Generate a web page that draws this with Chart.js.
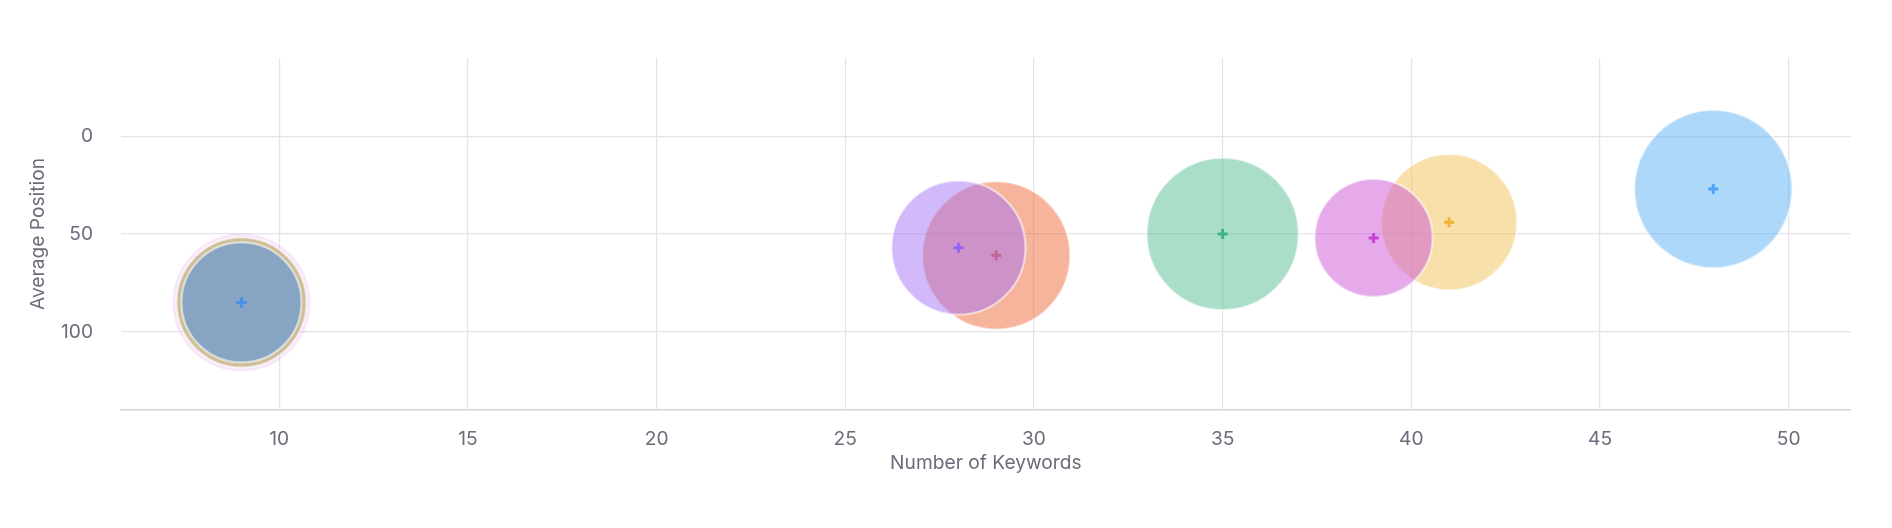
<!DOCTYPE html>
<html>
<head>
<meta charset="utf-8">
<script src="https://cdn.jsdelivr.net/npm/chart.js@4.4.0/dist/chart.umd.min.js"></script>
<style>
	html, body { margin: 0; padding: 0; background: #fff; }
	#wrap { width: 1892px; height: 528px; }
</style>
</head>
<body>
<div id="wrap"><canvas id="keyword-chart"></canvas></div>
<script>
const domains = ["Site A", "Site B", "Site C", "Site D", "Site E", "Site F", "Site G", "Site H", "Site I"];
const keywords = [9, 9, 9, 29, 28, 35, 41, 39, 48];
const positions = [85, 85, 85, 61, 57, 50, 44, 52, 27];
const bubbleSize = [69, 65, 60, 74, 67, 76, 68, 59, 79];
const xTicks = [10, 15, 20, 25, 30, 35, 40, 45, 50];
const yTicks = [0, 50, 100];

// fill / centre-mark colours, same order as domains
const fills = [
	"rgba(205, 85, 215, 0.15)",
	"rgba(198, 182, 135, 0.85)",
	"rgba(122, 161, 201, 0.85)",
	"rgba(235, 105, 55, 0.5)",
	"rgba(165, 115, 245, 0.5)",
	"rgba(85, 189, 145, 0.5)",
	"rgba(241, 193, 85, 0.5)",
	"rgba(205, 85, 215, 0.5)",
	"rgba(91, 177, 245, 0.5)"
];
const marks = [
	"rgb(74, 144, 232)",
	"rgb(74, 144, 232)",
	"rgb(74, 144, 232)",
	"rgb(225, 90, 60)",
	"rgb(150, 100, 245)",
	"rgb(60, 180, 130)",
	"rgb(240, 180, 50)",
	"rgb(200, 65, 210)",
	"rgb(75, 165, 245)"
];

const textColour = "rgb(108, 108, 122)";
const gridColour = "rgb(228, 227, 236)";
const font = { family: "Inter", size: 19.2 };

const datasets = [];
domains.forEach((name, i) => {
	datasets.push({
		type: "bubble",
		label: name,
		data: [{ x: keywords[i], y: positions[i], r: bubbleSize[i] }],
		backgroundColor: fills[i],
		borderColor: i === 0 ? "rgba(0,0,0,0)" : "rgba(255, 255, 255, 0.55)",
		borderWidth: 2.2,
		order: (domains.length - i) * 2
	});
	datasets.push({
		type: "scatter",
		label: name + " centre",
		data: [{ x: keywords[i], y: positions[i] }],
		pointStyle: "cross",
		pointRadius: 5,
		pointBorderWidth: 3,
		pointBorderColor: marks[i],
		pointBackgroundColor: marks[i],
		order: (domains.length - i) * 2 - 1
	});
});

const config = {
	type: "bubble",
	data: { datasets },
	options: {
		responsive: true,
		maintainAspectRatio: false,
		animation: false,
		layout: {
			autoPadding: false,
			padding: { left: 23, right: 41, top: 58, bottom: 46.5 }
		},
		scales: {
			x: {
				type: "linear",
				min: 5.8,
				max: 51.65,
				afterBuildTicks: axis => (axis.ticks = xTicks.map(value => ({ value }))),
				afterFit: axis => {
					axis.height = 71.5;
				},
				grid: { color: gridColour, lineWidth: 1.2, drawTicks: false },
				border: { display: true, color: "rgb(210, 210, 218)", width: 1.5 },
				ticks: { color: textColour, font, padding: 18 },
				title: {
					display: true,
					text: "Number of Keywords",
					color: textColour,
					font,
					padding: { top: 1, bottom: 7 }
				}
			},
			y: {
				type: "linear",
				reverse: true,
				min: -40,
				max: 140,
				afterBuildTicks: axis => (axis.ticks = yTicks.map(value => ({ value }))),
				afterFit: axis => {
					axis.width = 97.7;
				},
				grid: { color: gridColour, lineWidth: 1.2, drawTicks: false },
				border: { display: false },
				ticks: { color: textColour, font, padding: 27.7 },
				title: {
					display: true,
					text: "Average Position",
					color: textColour,
					font,
					padding: { top: 4, bottom: 4 }
				}
			}
		},
		plugins: {
			legend: { display: false },
			tooltip: { enabled: false }
		}
	}
};

new Chart(document.getElementById("keyword-chart"), config);
</script>
</body>
</html>
